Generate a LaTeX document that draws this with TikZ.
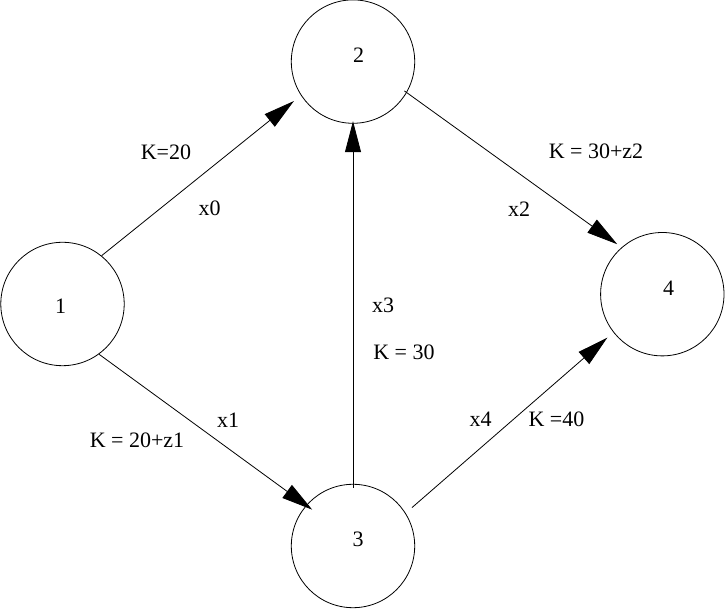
\documentclass[tikz,border=0pt]{standalone}
\usepackage{fontspec}
\setmainfont{Liberation Serif}
\usetikzlibrary{arrows.meta}

\tikzset{
    vertex/.style={draw, circle, minimum size=123.4pt, inner sep=0pt},
    num/.style={inner sep=0pt},
    lbl/.style={anchor=base, inner sep=0pt},
    flow/.style={-{Triangle[length=31pt,width=16pt]}}
}

\begin{document}
\begin{tikzpicture}[x=1pt, y=1pt, line width=0.8pt, font=\fontsize{22}{26}\selectfont]
    \useasboundingbox (0,0) rectangle (725,609);

    \node[vertex, label={[num,xshift=-2pt,yshift=-2.7pt]center:1}] (n1) at (62.5,305) {};
    \node[vertex, label={[num,xshift=5.5pt,yshift=6.1pt]center:2}] (n2) at (353,547.4) {};
    \node[vertex, label={[num,xshift=5pt,yshift=6.8pt]center:3}] (n3) at (353,63) {};
    \node[vertex, label={[num,xshift=6.2pt,yshift=5.9pt]center:4}] (n4) at (662.3,314.8) {};

    \draw[flow, shorten >=9pt] (n1.51.5) -- (n2.213.9);
    \draw[flow, shorten >=-7.5pt] (n1.306.2) -- (n3.139);
    \draw[flow, shorten <=-3.7pt, shorten >=-2.5pt] (n3.90) -- (n2.270);
    \draw[flow, shorten <=-3pt, shorten >=5.3pt] (n2.330.9) -- (n4.131.6);
    \draw[flow, shorten <=8.4pt, shorten >=8pt] (n3.32.1) -- (n4.218.6);

    \node[lbl] at (166,449.7) {K=20};
    \node[lbl] at (209.5,393) {x0};
    \node[lbl] at (596,450.7) {K = 30+z2};
    \node[lbl] at (519,392) {x2};
    \node[lbl] at (383,296) {x3};
    \node[lbl] at (404,249) {K = 30};
    \node[lbl] at (137,161) {K = 20+z1};
    \node[lbl] at (228,181) {x1};
    \node[lbl] at (480.5,182) {x4};
    \node[lbl] at (556.5,182) {K =40};
\end{tikzpicture}
\end{document}
